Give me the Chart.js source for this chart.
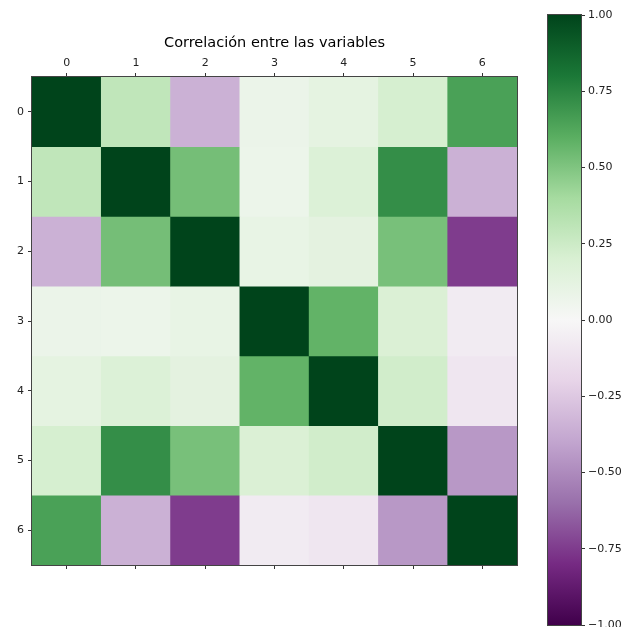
<!DOCTYPE html>
<html>
<head>
<meta charset="utf-8">
<script src="https://cdn.jsdelivr.net/npm/chart.js@4"></script>
<style>
  body { margin: 0; background: #fff; }
  #wrap { position: relative; width: 625px; height: 627px; }
  #heat { position: absolute; left: 0; top: 0; width: 540px; height: 627px; }
  #bar { position: absolute; left: 540px; top: 0; width: 85px; height: 627px; }
</style>
</head>
<body>
<div id="wrap">
  <div id="heat"><canvas id="chart_heat"></canvas></div>
  <div id="bar"><canvas id="chart_bar"></canvas></div>
</div>
<script>
let labels = ['0', '1', '2', '3', '4', '5', '6']
let row0 = [1, 0.30, -0.35, 0.08, 0.12, 0.21, 0.65]
let row1 = [0.30, 1, 0.53, 0.07, 0.18, 0.72, -0.35]
let row2 = [-0.35, 0.53, 1, 0.10, 0.13, 0.52, -0.75]
let row3 = [0.08, 0.07, 0.10, 1, 0.58, 0.19, -0.07]
let row4 = [0.12, 0.18, 0.13, 0.58, 1, 0.23, -0.10]
let row5 = [0.21, 0.72, 0.52, 0.19, 0.23, 1, -0.45]
let row6 = [0.65, -0.35, -0.75, -0.07, -0.10, -0.45, 1]
let rows = [row0, row1, row2, row3, row4, row5, row6]
let cbTicks = [-1, -0.75, -0.5, -0.25, 0, 0.25, 0.5, 0.75, 1]

// PRGn (colorbrewer, 11 stops from -1 to 1)
let prgn = ['#40004b', '#762a83', '#9970ab', '#c2a5cf', '#e7d4e8', '#f7f7f7',
            '#d9f0d3', '#a6dba0', '#5aae61', '#1b7837', '#00441b']

function hexToRgb(h){
    return [parseInt(h.slice(1, 3), 16), parseInt(h.slice(3, 5), 16), parseInt(h.slice(5, 7), 16)]
}

function colorFor(v){
    let t = (v + 1) / 2 * 10
    let i = Math.min(9, Math.floor(t))
    let f = t - i
    let a = hexToRgb(prgn[i]), b = hexToRgb(prgn[i + 1])
    let c = a.map((x, k) => Math.round(x + (b[k] - x) * f))
    return `rgb(${c[0]}, ${c[1]}, ${c[2]})`
}

const FONT = { family: 'DejaVu Sans', size: 11 }
const TEXT = '#222'

const frame = {
    id: 'frame',
    afterDraw(chart){
        const { ctx, chartArea } = chart
        ctx.save()
        ctx.strokeStyle = '#444'
        ctx.lineWidth = 1
        ctx.strokeRect(Math.round(chartArea.left) - 0.5, Math.round(chartArea.top) - 0.5,
            Math.round(chartArea.right - chartArea.left) + 1, Math.round(chartArea.bottom - chartArea.top) + 1)
        ctx.restore()
    }
}

function createHeatmap(){
    let datasets = rows.map((row, r) => ({
        label: 'fila ' + r,
        data: row.map(() => [r - 0.5, r + 0.5]),
        backgroundColor: row.map(v => colorFor(v)),
        borderWidth: 0,
        grouped: false,
        barPercentage: 1,
        categoryPercentage: 1
    }))

    new Chart(document.getElementById('chart_heat'), {
        type: 'bar',
        data: { labels: labels, datasets: datasets },
        plugins: [frame],
        options: {
            responsive: true,
            maintainAspectRatio: false,
            animation: false,
            layout: { padding: { left: 0, right: 23, top: 0, bottom: 52 } },
            plugins: {
                legend: { display: false },
                tooltip: { enabled: false }
            },
            scales: {
                x: {
                    type: 'category',
                    position: 'top',
                    offset: true,
                    // title on the top axis so it centres over the matrix
                    title: {
                        display: true,
                        text: 'Correlación entre las variables',
                        color: '#000',
                        font: { family: 'DejaVu Sans', size: 14.5, lineHeight: 1.2 },
                        padding: { top: 35, bottom: 0 }
                    },
                    grid: { offset: false, drawOnChartArea: false, drawTicks: true, tickLength: 4, color: '#333' },
                    border: { display: false },
                    ticks: { color: TEXT, font: FONT, padding: 3, maxRotation: 0 },
                    afterFit: s => { s.height = 77 }
                },
                x2: {
                    type: 'category',
                    labels: labels,
                    position: 'bottom',
                    offset: true,
                    grid: { offset: false, drawOnChartArea: false, drawTicks: true, tickLength: 4, color: '#333' },
                    border: { display: false },
                    ticks: { callback: () => '', font: FONT },
                    afterFit: s => { s.height = 10 }
                },
                y: {
                    type: 'linear',
                    min: -0.5,
                    max: 6.5,
                    reverse: true,
                    grid: { drawOnChartArea: false, drawTicks: true, tickLength: 4, color: '#333' },
                    border: { display: false },
                    ticks: { color: TEXT, font: FONT, padding: 4, callback: v => String(v) },
                    afterBuildTicks: s => { s.ticks = labels.map((l, i) => ({ value: i })) },
                    afterFit: s => { s.width = 32 }
                }
            }
        }
    })
}

function createColorbar(){
    new Chart(document.getElementById('chart_bar'), {
        type: 'bar',
        data: {
            labels: ['cb'],
            datasets: [{
                data: [[-1, 1]],
                borderWidth: 0,
                barPercentage: 1,
                categoryPercentage: 1,
                backgroundColor: (c) => {
                    const area = c.chart.chartArea
                    if (!area) return prgn[5]
                    let g = c.chart.ctx.createLinearGradient(0, area.bottom, 0, area.top)
                    prgn.forEach((col, i) => g.addColorStop(i / 10, col))
                    return g
                }
            }]
        },
        plugins: [frame],
        options: {
            responsive: true,
            maintainAspectRatio: false,
            animation: false,
            layout: { padding: { left: 8, right: 0, top: 15, bottom: 2 } },
            plugins: { legend: { display: false }, tooltip: { enabled: false } },
            scales: {
                x: { display: false },
                y: {
                    position: 'right',
                    min: -1,
                    max: 1,
                    grid: { drawOnChartArea: false, drawTicks: true, tickLength: 4, color: '#333' },
                    border: { display: false },
                    ticks: {
                        color: TEXT, font: FONT, padding: 3,
                        callback: v => v.toFixed(2).replace('-', '\u2212')
                    },
                    afterBuildTicks: s => { s.ticks = cbTicks.map(v => ({ value: v })) },
                    afterFit: s => { s.width = 44; s.paddingTop = 0; s.paddingBottom = 0 }
                }
            }
        }
    })
}

createHeatmap()
createColorbar()
</script>
</body>
</html>
